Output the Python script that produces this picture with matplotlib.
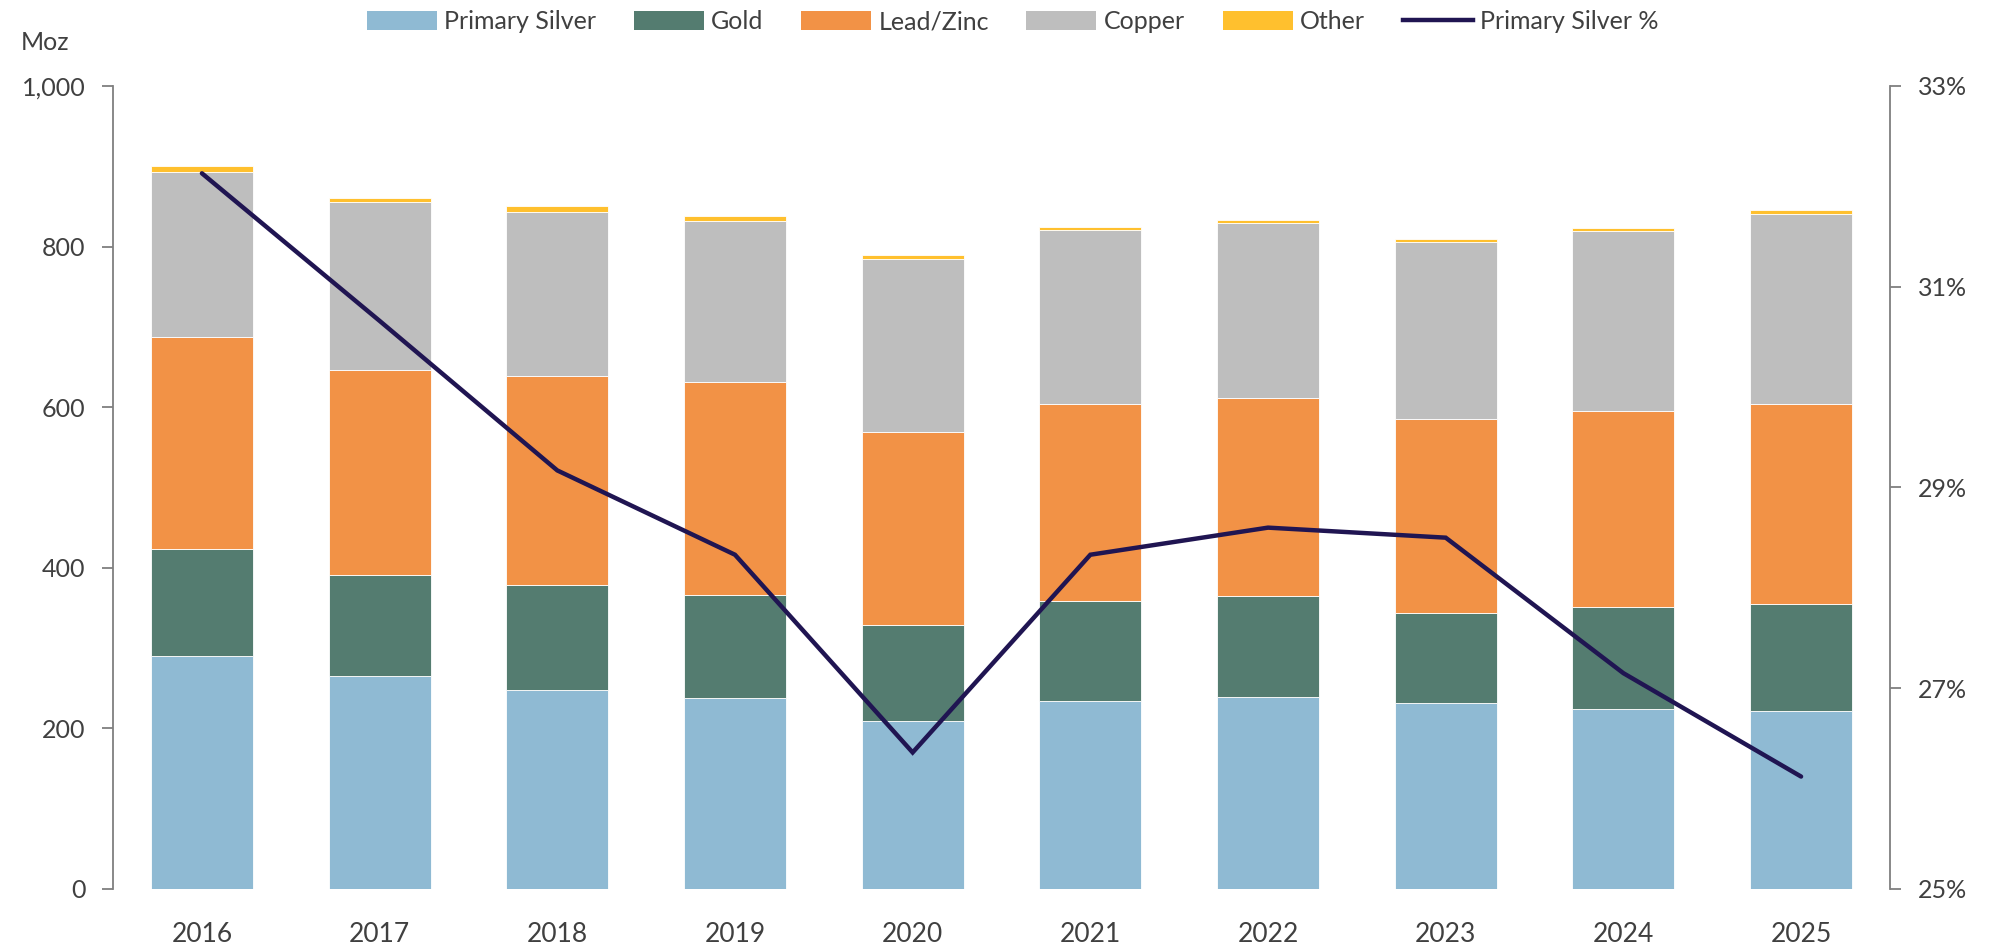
import matplotlib
matplotlib.use("Agg")
import matplotlib.pyplot as plt
import numpy as np
from matplotlib.patches import Patch
from matplotlib.lines import Line2D
from matplotlib.ticker import FuncFormatter

plt.rcParams['font.family'] = ['Lato', 'DejaVu Sans']

years = ['2016', '2017', '2018', '2019', '2020', '2021', '2022', '2023', '2024', '2025']
primary_silver = [290, 265, 248, 238, 209, 234, 239, 232, 224, 222]
gold = [134, 126, 130, 128, 120, 125, 126, 112, 127, 133]
lead_zinc = [264, 255, 261, 265, 240, 245, 247, 241, 244, 249]
copper = [205, 209, 204, 201, 216, 217, 217, 221, 224, 237]
other = [7, 6, 7, 6, 5, 4, 4, 4, 4, 5]
primary_silver_pct = [32.13, 30.66, 29.17, 28.33, 26.36, 28.33, 28.60, 28.50, 27.15, 26.12]

series_names = ['Primary Silver', 'Gold', 'Lead/Zinc', 'Copper', 'Other']
colors = ['#8FBAD3', '#547C70', '#F29246', '#BEBEBE', '#FFC02E']
line_color = '#201552'
text_color = '#404040'
axis_color = '#7F7F7F'

fig = plt.figure(figsize=(20.05, 9.44), dpi=100)
ax = fig.add_axes([0.0564, 0.0583, 0.8862, 0.8506])
ax2 = ax.twinx()

x = np.arange(len(years))
bottom = np.zeros(len(years))
for vals, c in zip([primary_silver, gold, lead_zinc, copper, other], colors):
    ax.bar(x, vals, width=0.575, bottom=bottom, color=c, edgecolor='#FFFFFF',
           linewidth=0.6, zorder=2)
    bottom += np.array(vals)

ax2.plot(x, primary_silver_pct, color=line_color, lw=3.2, solid_capstyle='round',
         solid_joinstyle='miter', zorder=5)

ax.set_xlim(-0.5, len(years) - 0.5)
ax.set_ylim(0, 1000)
ax.set_yticks(range(0, 1001, 200))
ax.yaxis.set_major_formatter(FuncFormatter(lambda v, p: f'{int(v):,}'))
ax2.set_ylim(25, 33)
ax2.set_yticks([25, 27, 29, 31, 33])
ax2.yaxis.set_major_formatter(FuncFormatter(lambda v, p: f'{int(v)}%'))

ax.set_xticks(x)
ax.set_xticklabels(years)

for a in (ax, ax2):
    for s in ['top', 'bottom']:
        a.spines[s].set_visible(False)
ax.spines['right'].set_visible(False)
ax2.spines['left'].set_visible(False)
ax.spines['left'].set_color(axis_color)
ax2.spines['right'].set_color(axis_color)
ax.spines['left'].set_linewidth(1.3)
ax2.spines['right'].set_linewidth(1.3)

ax.tick_params(axis='x', length=0, pad=24, labelsize=19, labelcolor=text_color)
ax.tick_params(axis='y', length=8, width=1.3, color=axis_color, pad=12,
               labelsize=18, labelcolor=text_color)
ax2.tick_params(axis='y', length=8, width=1.3, color=axis_color, pad=12,
                labelsize=18, labelcolor=text_color)

fig.text(0.0105, 0.955, 'Moz', fontsize=18, color=text_color, va='center', ha='left')

handles = [Patch(facecolor=c, edgecolor='none') for c in colors]
handles.append(Line2D([0], [0], color=line_color, lw=3.2))
labels = series_names + ['Primary Silver %']
fig.legend(handles, labels, loc='center', bbox_to_anchor=(0.505, 0.977), ncol=6,
           frameon=False, fontsize=18, labelcolor=text_color, handlelength=2.8,
           handleheight=0.75, handletextpad=0.3, columnspacing=1.5)

ax.set_zorder(1)
ax2.set_zorder(2)
ax2.patch.set_visible(False)

fig.savefig('out.png', dpi=100)
